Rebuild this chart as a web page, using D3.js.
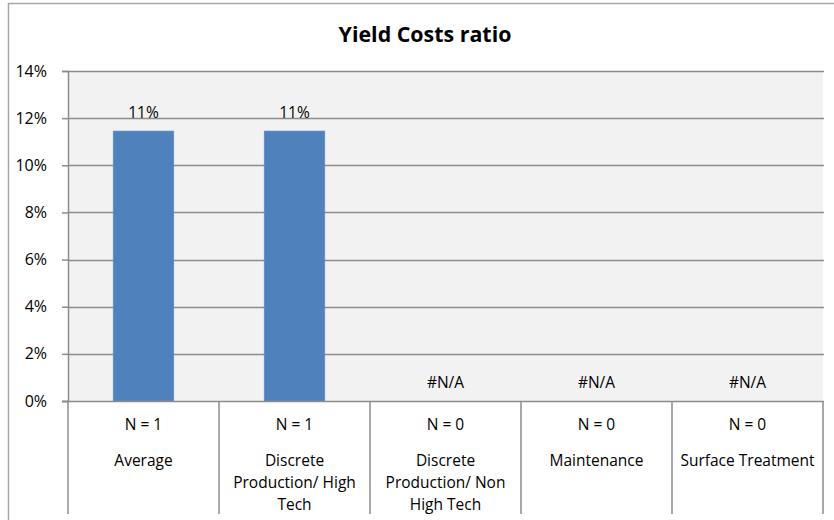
<!DOCTYPE html>
<html>
<head>
<meta charset="utf-8">
<script src="https://cdn.jsdelivr.net/npm/d3@7"></script>
<style>
  html, body { margin: 0; padding: 0; background: #fff; }
  svg { display: block; }
  text { font-family: "Open Sans", "Liberation Sans", sans-serif; fill: #000; }
</style>
</head>
<body>
<svg id="chart" width="834" height="520"></svg>
<script>
// Chart data
const categories = [
  ["Average"],
  ["Discrete", "Production/ High", "Tech"],
  ["Discrete", "Production/ Non", "High Tech"],
  ["Maintenance"],
  ["Surface Treatment"]
];
const values = [0.1145, 0.1145, null, null, null];
const counts = [1, 1, 0, 0, 0];
const yTicks = [0, 0.02, 0.04, 0.06, 0.08, 0.10, 0.12, 0.14];
const title = "Yield Costs ratio";

const svg = d3.select("#chart");
const W = 834, H = 520;
const plot = { left: 68, right: 823, top: 71, bottom: 401 };
const fs = 15.5;

// Outer chart frame (extends beyond the visible window on right and bottom)
svg.append("rect")
  .attr("x", 8.5).attr("y", 3.5)
  .attr("width", W + 20).attr("height", H + 20)
  .attr("fill", "#fff")
  .attr("stroke", "#a6a6a6").attr("stroke-width", 1.5);

// Title
svg.append("text")
  .attr("x", 425).attr("y", 42)
  .attr("text-anchor", "middle")
  .attr("font-size", 21.4).attr("font-weight", "bold")
  .text(title);

const idx = d3.range(categories.length);
const x = d3.scaleBand().domain(idx).range([plot.left, plot.right]).paddingInner(0).paddingOuter(0);
const y = d3.scaleLinear().domain([0, 0.14]).range([plot.bottom, plot.top]);
const pct = d3.format(".0%");

// Plot background
svg.append("rect")
  .attr("x", plot.left).attr("y", plot.top)
  .attr("width", plot.right - plot.left).attr("height", plot.bottom - plot.top)
  .attr("fill", "#f2f2f2");

// Gridlines
svg.append("g").selectAll("line")
  .data(yTicks.filter(t => t > 0))
  .join("line")
  .attr("x1", plot.left).attr("x2", plot.right + 1)
  .attr("y1", d => Math.round(y(d)) + 0.5).attr("y2", d => Math.round(y(d)) + 0.5)
  .attr("stroke", "#8c8c8c").attr("stroke-width", 1.5);

// Y axis
const yAxis = svg.append("g")
  .attr("transform", `translate(${plot.left},0)`)
  .call(d3.axisLeft(y).tickValues(yTicks).tickFormat(pct).tickSize(6).tickPadding(15));
yAxis.select(".domain").attr("stroke", "#8c8c8c").attr("stroke-width", 1.5);
yAxis.selectAll(".tick line").attr("stroke", "#8c8c8c").attr("stroke-width", 1.5);
yAxis.selectAll(".tick text")
  .attr("font-size", 16)
  .attr("font-family", "\"Open Sans\", sans-serif")
  .attr("fill", "#000");

// Bars
const barW = x.bandwidth() * 0.4;
svg.append("g").selectAll("rect")
  .data(idx.filter(i => values[i] != null))
  .join("rect")
  .attr("x", i => x(i) + (x.bandwidth() - barW) / 2)
  .attr("y", i => y(values[i]))
  .attr("width", barW)
  .attr("height", i => y(0) - y(values[i]))
  .attr("fill", "#4f81bd")
  .attr("stroke", "#5b8cc7").attr("stroke-width", 0.8);

// Value labels
svg.append("g").selectAll("text")
  .data(idx)
  .join("text")
  .attr("x", i => x(i) + x.bandwidth() / 2)
  .attr("y", i => y(values[i] == null ? 0 : values[i]) - 13)
  .attr("text-anchor", "middle")
  .attr("font-size", fs)
  .text(i => values[i] == null ? "#N/A" : pct(values[i]));

// Baseline axis
svg.append("line")
  .attr("x1", plot.left - 6).attr("x2", plot.right + 1)
  .attr("y1", plot.bottom + 0.5).attr("y2", plot.bottom + 0.5)
  .attr("stroke", "#8c8c8c").attr("stroke-width", 1.5);

// Category separators below the axis
svg.append("g").selectAll("line")
  .data(d3.range(categories.length + 1))
  .join("line")
  .attr("x1", i => i < categories.length ? x(i) : plot.right)
  .attr("x2", i => i < categories.length ? x(i) : plot.right)
  .attr("y1", plot.bottom).attr("y2", 514)
  .attr("stroke", "#8c8c8c").attr("stroke-width", 1.5);

// N counts and category names
const catG = svg.append("g").selectAll("g")
  .data(idx)
  .join("g")
  .attr("transform", i => `translate(${x(i) + x.bandwidth() / 2},0)`);
catG.append("text")
  .attr("y", 430)
  .attr("text-anchor", "middle")
  .attr("font-size", fs)
  .text(i => `N = ${counts[i]}`);
catG.append("text")
  .attr("text-anchor", "middle")
  .attr("font-size", fs)
  .selectAll("tspan")
  .data(i => categories[i])
  .join("tspan")
  .attr("x", 0)
  .attr("y", (d, j) => 466 + j * 22)
  .text(d => d);
</script>
</body>
</html>
